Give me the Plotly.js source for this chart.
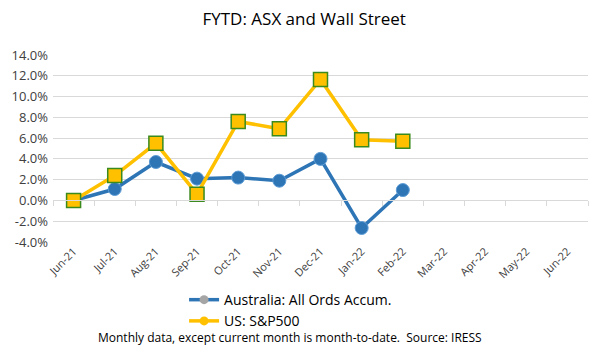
<!DOCTYPE html>
<html><head><meta charset="utf-8">
<script src="https://cdn.plot.ly/plotly-3.0.1.min.js"></script>
<style>html,body{margin:0;padding:0;background:#fff}#c{width:600px;height:353px}</style>
</head><body><div id="c"></div>
<script>
const months = ["Jun-21","Jul-21","Aug-21","Sep-21","Oct-21","Nov-21","Dec-21","Jan-22","Feb-22","Mar-22","Apr-22","May-22","Jun-22"];
const ausMonths = ["Jun-21","Jul-21","Aug-21","Sep-21","Oct-21","Nov-21","Dec-21","Jan-22","Feb-22"];
const ausValues = [0.0, 1.1, 3.7, 2.1, 2.2, 1.9, 4.0, -2.65, 1.0];
const usValues  = [0.0, 2.4, 5.5, 0.6, 7.6, 6.9, 11.65, 5.85, 5.7];
const yTicks = [-4,-2,0,2,4,6,8,10,12,14];
const yTickText = yTicks.map(v => v.toFixed(1) + "%");

const FONT = "Open Sans, Noto Sans, Liberation Sans, sans-serif";
const blue = "#2E75B6", gold = "#FFC000", green = "#3A8A1E";

const traces = [
  {x: ausMonths, y: ausValues, type: "scatter", mode: "lines+markers", showlegend: false,
   line: {color: blue, width: 3.5}, marker: {symbol: "circle", size: 13, color: blue, line: {color: "#5B9BD5", width: 1}},
   hoverinfo: "skip"},
  {x: ausMonths, y: usValues, type: "scatter", mode: "lines+markers", showlegend: false,
   line: {color: gold, width: 3.5}, marker: {symbol: "square", size: 14, color: gold, line: {color: green, width: 1.5}},
   hoverinfo: "skip"},
  {x: [months[0]], y: [null], xaxis: "x2", type: "scatter", mode: "lines+markers", name: "Australia: All Ords Accum.",
   line: {color: blue, width: 3.5}, marker: {symbol: "circle", size: 9, color: "#A5A5A5"}},
  {x: [months[0]], y: [null], xaxis: "x2", type: "scatter", mode: "lines+markers", name: "US: S&amp;P500",
   line: {color: gold, width: 3.5}, marker: {symbol: "circle", size: 9, color: gold}}
];

const layout = {
  width: 600, height: 353,
  margin: {l: 53, r: 12, t: 55, b: 111},
  paper_bgcolor: "#fff", plot_bgcolor: "#fff",
  font: {family: FONT, color: "#404040"},
  title: {text: "FYTD: ASX and Wall Street", font: {family: FONT, size: 17, color: "#000"}, x: 0.507, xanchor: "center", y: 0.945, yanchor: "middle"},
  xaxis: {type: "category", categoryorder: "array", categoryarray: months, range: [-0.5, 12.5],
    anchor: "free", position: 4/18, showticklabels: false, ticks: "outside", tickson: "boundaries",
    ticklen: 5, tickcolor: "#D9D9D9", showline: true, linecolor: "#D9D9D9", linewidth: 1, showgrid: false, zeroline: false, fixedrange: true},
  xaxis2: {type: "category", categoryorder: "array", categoryarray: months, range: [-0.5, 12.5],
    overlaying: "x", anchor: "y", side: "bottom", showgrid: false, zeroline: false, showline: false, ticks: "",
    tickangle: -45, tickfont: {family: FONT, size: 11, color: "#404040"}, tickvals: months, ticktext: months, fixedrange: true},
  yaxis: {range: [-4, 14], tickvals: yTicks, ticktext: yTickText, showgrid: true, gridcolor: "#D9D9D9", gridwidth: 1,
    zeroline: false, showline: false, ticks: "", tickfont: {family: FONT, size: 13, color: "#404040"}, ticklabelstandoff: 4, fixedrange: true},
  legend: {orientation: "v", x: 0.245, xanchor: "left", y: -0.225, yanchor: "top", font: {family: FONT, size: 14, color: "#000"},
    bgcolor: "rgba(0,0,0,0)", itemwidth: 30, tracegroupgap: 0},
  annotations: [{text: "Monthly data, except current month is month-to-date.  Source: IRESS", xref: "paper", yref: "paper",
    x: 0.443, y: -0.513, xanchor: "center", yanchor: "middle", showarrow: false, font: {family: FONT, size: 12, color: "#000"}}]
};

Plotly.newPlot("c", traces, layout, {displayModeBar: false, staticPlot: true});
</script>
</body></html>
